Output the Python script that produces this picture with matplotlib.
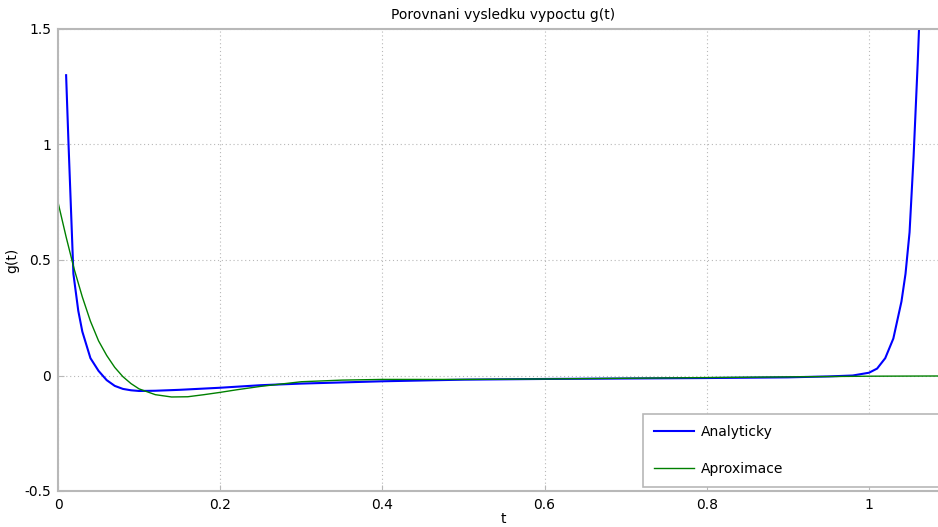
import matplotlib

matplotlib.use("Agg")
import matplotlib.pyplot as plt

# Analytic solution (blue)
t_analyt = [0.01, 0.013, 0.019, 0.025, 0.03, 0.04, 0.05, 0.06, 0.07, 0.08,
            0.09, 0.10, 0.12, 0.15, 0.2, 0.25, 0.3, 0.4, 0.5, 0.6,
            0.7, 0.8, 0.9, 0.95, 0.98, 1.0, 1.01, 1.02, 1.03, 1.04,
            1.045, 1.05, 1.055, 1.06, 1.065]
g_analyt = [1.30, 1.00, 0.44, 0.28, 0.19, 0.075, 0.02, -0.02, -0.045, -0.058,
            -0.064, -0.067, -0.066, -0.062, -0.053, -0.042, -0.035, -0.025, -0.018, -0.015,
            -0.013, -0.011, -0.008, -0.004, 0.0, 0.012, 0.03, 0.075, 0.16, 0.32,
            0.44, 0.62, 0.95, 1.35, 1.8]

# Approximation (green)
t_aprox = [0.0, 0.01, 0.02, 0.03, 0.04, 0.05, 0.06, 0.07, 0.08, 0.09,
           0.1, 0.12, 0.14, 0.16, 0.18, 0.2, 0.22, 0.25, 0.27, 0.3,
           0.35, 0.4, 0.5, 0.6, 0.7, 0.8, 0.9, 1.0, 1.1]
g_aprox = [0.75, 0.60, 0.46, 0.34, 0.235, 0.15, 0.087, 0.035, -0.005, -0.035,
           -0.058, -0.083, -0.093, -0.092, -0.083, -0.073, -0.062, -0.047, -0.039, -0.027,
           -0.02, -0.017, -0.017, -0.015, -0.012, -0.009, -0.006, -0.003, -0.002]

x_ticks = [0, 0.2, 0.4, 0.6, 0.8, 1.0]
x_ticklabels = ["0", "0.2", "0.4", "0.6", "0.8", "1"]
y_ticks = [-0.5, 0, 0.5, 1, 1.5]
y_ticklabels = ["-0.5", "0", "0.5", "1", "1.5"]

W, H = 938, 527
fig = plt.figure(figsize=(W / 100, H / 100), dpi=100)
# axes runs a little past the right edge of the image, as in the reference
ax = fig.add_axes([58 / W, 1 - 491 / H, (948 - 58) / W, (491 - 29) / H])

ax.plot(t_analyt, g_analyt, color="#0000ff", linewidth=1.5, label="Analyticky")
ax.plot(t_aprox, g_aprox, color="#008000", linewidth=1.0, label="Aproximace")

ax.set_xlim(0, 1.0974)
ax.set_ylim(-0.5, 1.5)
ax.set_xticks(x_ticks)
ax.set_xticklabels(x_ticklabels)
ax.set_yticks(y_ticks)
ax.set_yticklabels(y_ticklabels)

grey = "#b8b8b8"
for sp in ax.spines.values():
    sp.set_color(grey)
    sp.set_linewidth(1.5)
ax.tick_params(direction="in", length=4, color=grey, labelsize=10, pad=5)
ax.grid(True, color=grey, linestyle=(0, (1, 2.5)), linewidth=0.8)

ax.set_title("Porovnani vysledku vypoctu g(t)", fontsize=10, pad=7)
ax.set_xlabel("t", fontsize=10, labelpad=0)
ax.set_ylabel("g(t)", fontsize=10, labelpad=4)

leg = ax.legend(loc="lower left", bbox_to_anchor=(643 / W, 1 - 487 / H, 0.36, 72 / H),
                bbox_transform=fig.transFigure, mode="expand", fontsize=10,
                fancybox=False, framealpha=1, edgecolor=grey, handlelength=2.9,
                handletextpad=0.5, labelspacing=1.65, borderaxespad=0, borderpad=0.8)
leg.get_frame().set_linewidth(1.2)

fig.savefig("out.png", dpi=100)
